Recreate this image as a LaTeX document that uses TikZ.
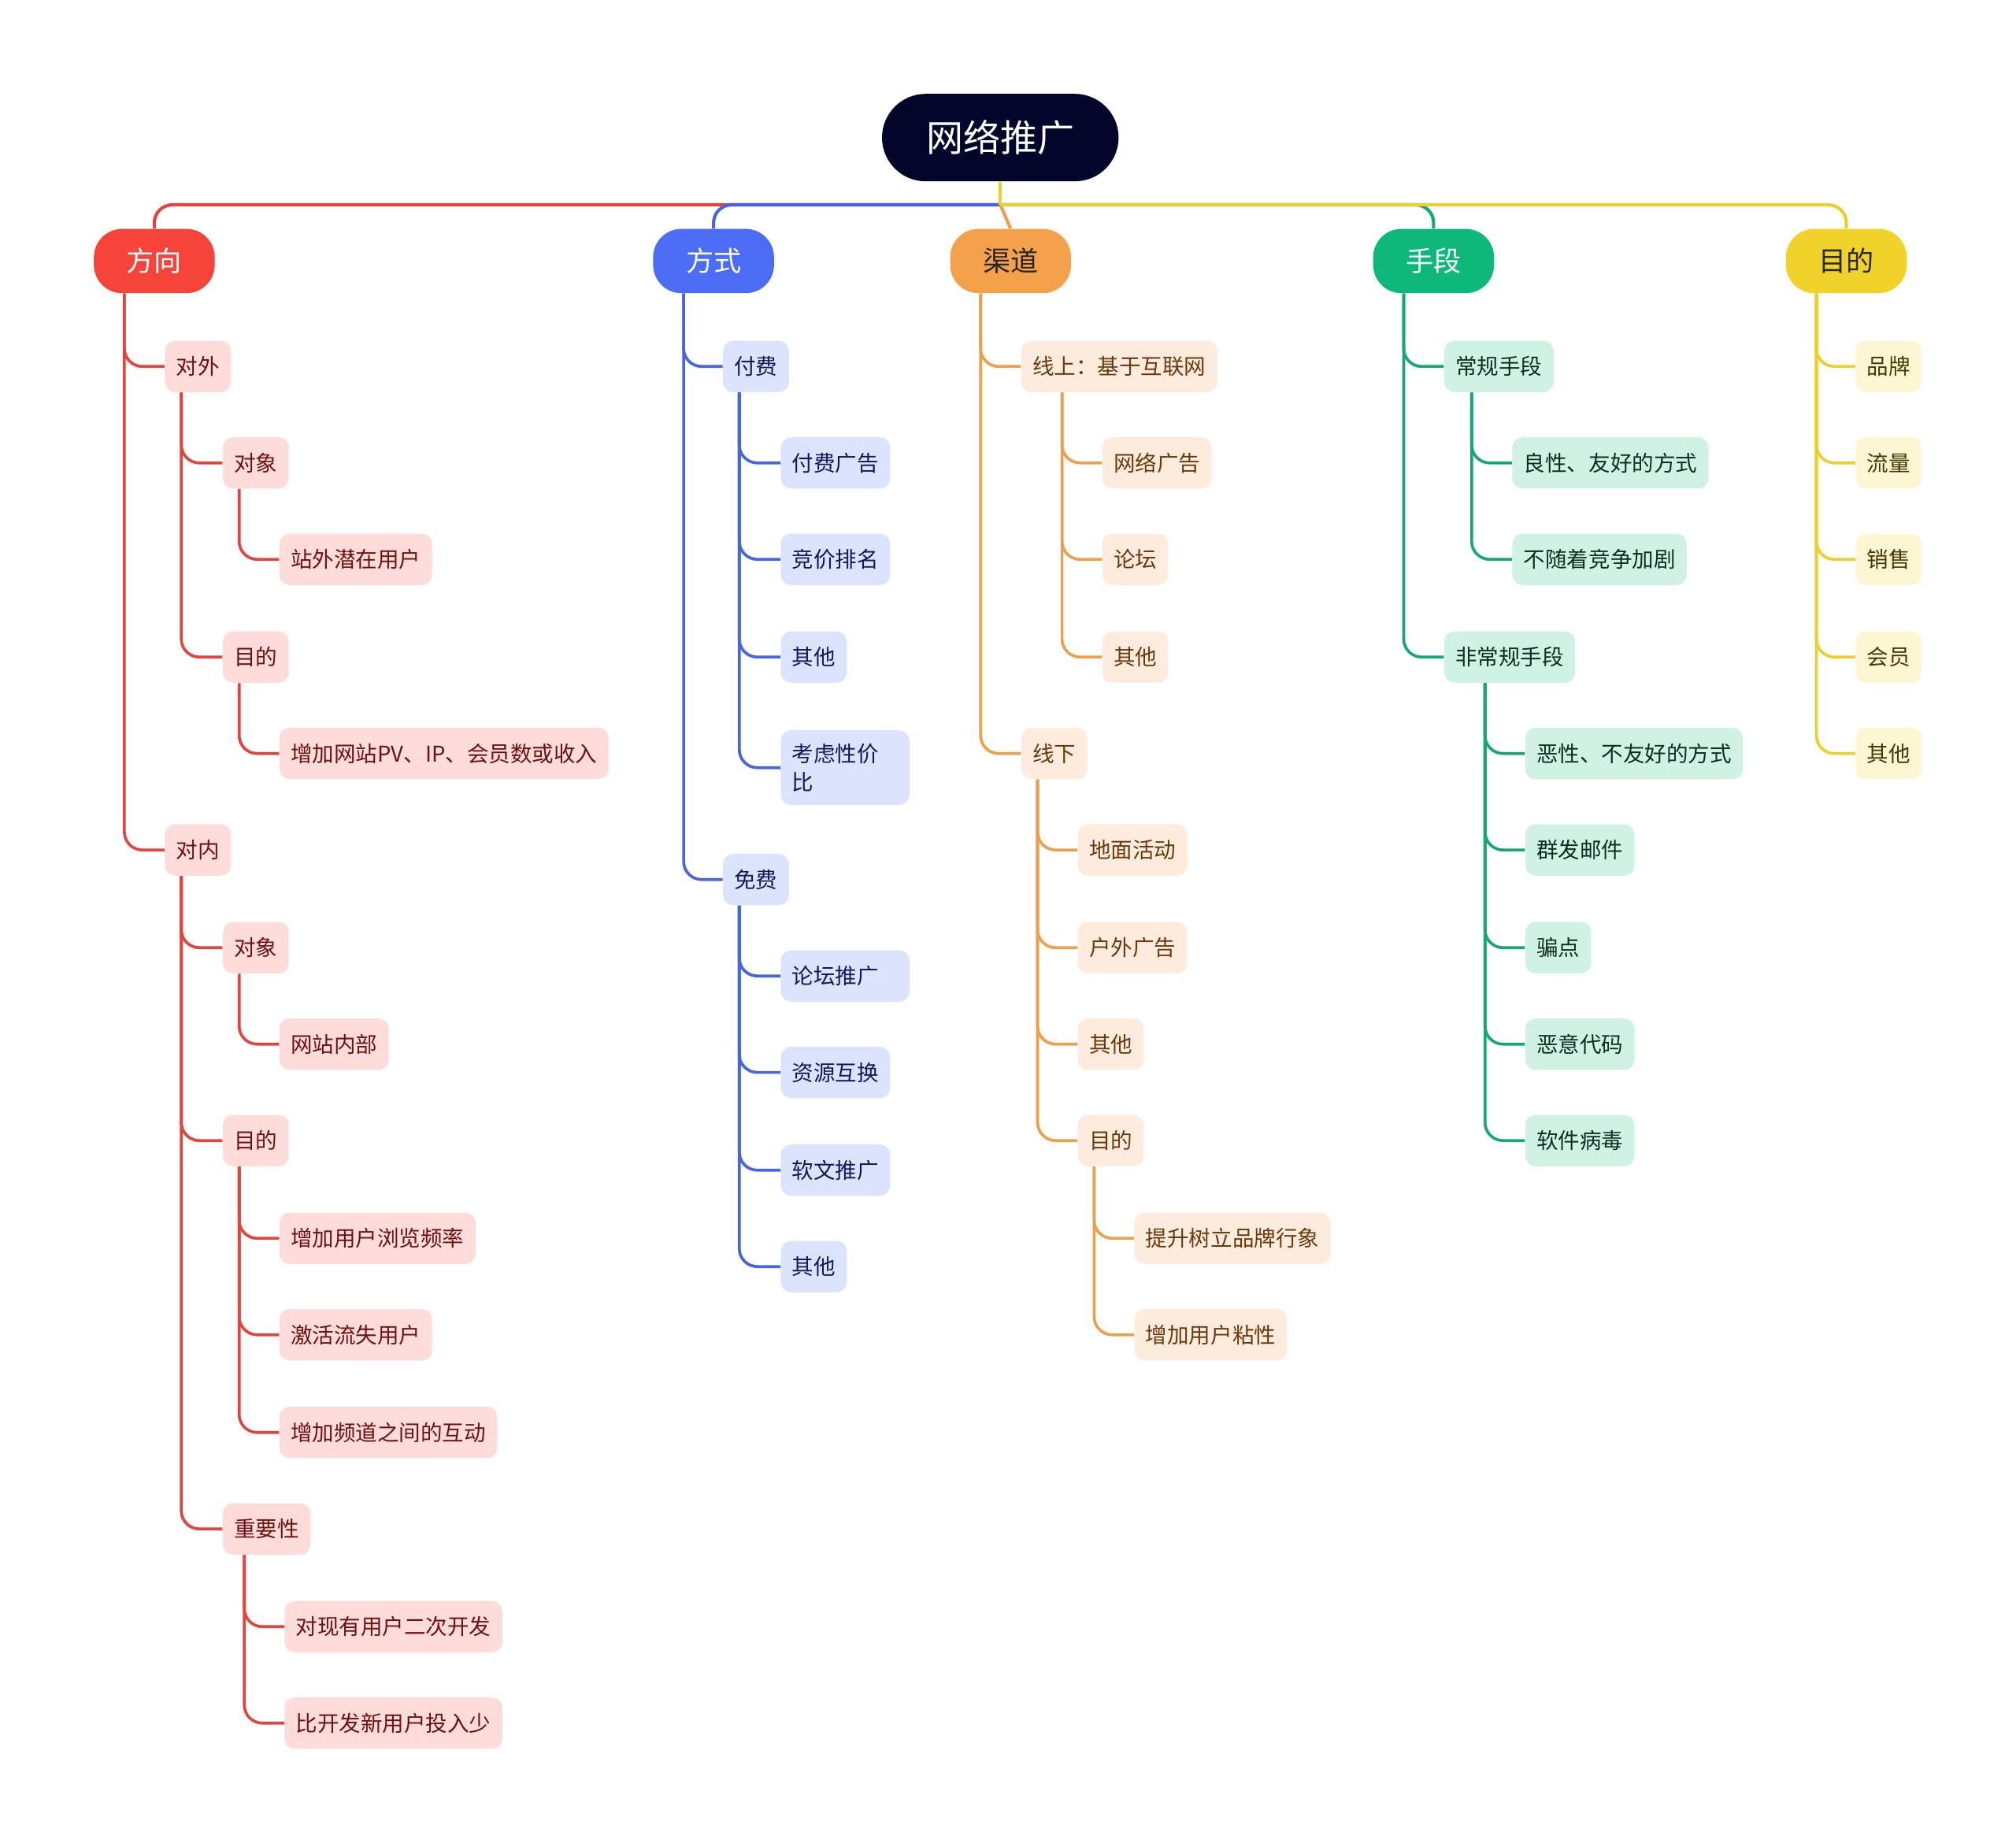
\documentclass[tikz,border=0pt]{standalone}
\usepackage{fontspec}
\setmainfont{Noto Sans CJK SC}
\usetikzlibrary{positioning}

\definecolor{rootC}{HTML}{03052A}
\definecolor{rFill}{HTML}{F6443A}\definecolor{rLine}{HTML}{E0463F}\definecolor{rSub}{HTML}{FDDCDA}\definecolor{rTxt}{HTML}{6E1111}
\definecolor{bFill}{HTML}{4B6CF5}\definecolor{bLine}{HTML}{4865DC}\definecolor{bSub}{HTML}{DCE3FC}\definecolor{bTxt}{HTML}{101A5C}
\definecolor{oFill}{HTML}{F5A14B}\definecolor{oLine}{HTML}{EBA050}\definecolor{oSub}{HTML}{FDECDD}\definecolor{oTxt}{HTML}{6B3A0C}
\definecolor{gFill}{HTML}{0DB87A}\definecolor{gLine}{HTML}{17A776}\definecolor{gSub}{HTML}{D0F2E4}\definecolor{gTxt}{HTML}{0E2E22}
\definecolor{yFill}{HTML}{F0D22A}\definecolor{yLine}{HTML}{EBCF2F}\definecolor{ySub}{HTML}{FDF6D2}\definecolor{yTxt}{HTML}{453A05}

\tikzset{
  sub/.style={rounded corners=2mm, inner xsep=2.2mm, minimum height=10mm, anchor=west,
    font=\fontsize{12}{15.6}\selectfont},
  subR/.style={sub, fill=rSub, text=rTxt},
  subB/.style={sub, fill=bSub, text=bTxt},
  subO/.style={sub, fill=oSub, text=oTxt},
  subG/.style={sub, fill=gSub, text=gTxt},
  subY/.style={sub, fill=ySub, text=yTxt},
  wide/.style={text width=20.6mm, align=left},
  branch/.style={rounded corners=5.5mm, minimum width=23.5mm, minimum height=12.5mm,
    font=\fontsize{15.3}{18}\selectfont},
  lk/.style={line width=1.6pt, rounded corners=3.5mm},
  bus/.style={line width=1.8pt, rounded corners=3.5mm}
}

\begin{document}
\begin{tikzpicture}[x=0.25mm, y=-0.25mm]
\useasboundingbox (0,0) rectangle (1568,1433);

    % Root and main branches
    \node[fill=rootC, text=white, rounded corners=8.5mm, minimum width=46mm, minimum height=17mm,
          font=\fontsize{20.5}{24}\selectfont] (root) at (778,107) {网络推广};
    \coordinate[below=4.5mm of root] (hub);
    \node[branch, fill=rFill, text=white] (fx) at (120,203) {方向};
    \node[branch, fill=bFill, text=white] (fs) at (555,203) {方式};
    \node[branch, fill=oFill, text=black!85] (qd) at (786,203) {渠道};
    \node[branch, fill=gFill, text=white] (sd) at (1115,203) {手段};
    \node[branch, fill=yFill, text=black!85] (md) at (1436,203) {目的};

    \draw[bus, rLine] (hub) -| (fx.north);
    \draw[bus, bLine] (hub) -| (fs.north);
    \draw[bus, oLine] (hub) -- (qd.north);
    \draw[bus, gLine] (hub) -| (sd.north);
    \draw[bus, yLine] (hub) -| (md.north);
    \draw[bus, yLine] (root.south) -- (hub);

    % 方向
    \node[subR] (dw) at (128,285) {对外};
    \node[subR] (dwdx) at (173,360) {对象};
    \node[subR] (dwyh) at (217,435) {站外潜在用户};
    \node[subR] (dwmd) at (173,511) {目的};
    \node[subR] (dwsr) at (217,586) {增加网站PV、IP、会员数或收入};
    \node[subR] (dn) at (128,661) {对内};
    \node[subR] (dndx) at (173,737) {对象};
    \node[subR] (dnnb) at (217,812) {网站内部};
    \node[subR] (dnmd) at (173,887) {目的};
    \node[subR] (dnpl) at (217,963) {增加用户浏览频率};
    \node[subR] (dnjh) at (217,1038) {激活流失用户};
    \node[subR] (dnhd) at (217,1114) {增加频道之间的互动};
    \node[subR] (dnzy) at (173,1189) {重要性};
    \node[subR] (dnkf) at (221,1265) {对现有用户二次开发};
    \node[subR] (dntr) at (221,1340) {比开发新用户投入少};

    \draw[lk, rLine] ([xshift=6mm]fx.south west) |- (dw.west);
    \draw[lk, rLine] ([xshift=6mm]fx.south west) |- (dn.west);
    \draw[lk, rLine] ([xshift=3.25mm]dw.south west) |- (dwdx.west);
    \draw[lk, rLine] ([xshift=3.25mm]dw.south west) |- (dwmd.west);
    \draw[lk, rLine] ([xshift=3.25mm]dwdx.south west) |- (dwyh.west);
    \draw[lk, rLine] ([xshift=3.25mm]dwmd.south west) |- (dwsr.west);
    \draw[lk, rLine] ([xshift=3.25mm]dn.south west) |- (dndx.west);
    \draw[lk, rLine] ([xshift=3.25mm]dn.south west) |- (dnmd.west);
    \draw[lk, rLine] ([xshift=3.25mm]dn.south west) |- (dnzy.west);
    \draw[lk, rLine] ([xshift=3.25mm]dndx.south west) |- (dnnb.west);
    \draw[lk, rLine] ([xshift=3.25mm]dnmd.south west) |- (dnpl.west);
    \draw[lk, rLine] ([xshift=3.25mm]dnmd.south west) |- (dnjh.west);
    \draw[lk, rLine] ([xshift=3.25mm]dnmd.south west) |- (dnhd.west);
    \draw[lk, rLine] ([xshift=4.25mm]dnzy.south west) |- (dnkf.west);
    \draw[lk, rLine] ([xshift=4.25mm]dnzy.south west) |- (dntr.west);

    % 方式
    \node[subB] (ff) at (562,285) {付费};
    \node[subB] (ffgg) at (607,360) {付费广告};
    \node[subB] (ffjj) at (607,435) {竞价排名};
    \node[subB] (ffqt) at (607,511) {其他};
    \node[subB, wide, inner ysep=2.6mm] (ffxj) at (607,597) {考虑性价\\比};
    \node[subB] (mf) at (562,684) {免费};
    \node[subB, wide] (mflt) at (607,759) {论坛推广};
    \node[subB] (mfzy) at (607,834) {资源互换};
    \node[subB] (mfrw) at (607,910) {软文推广};
    \node[subB] (mfqt) at (607,985) {其他};

    \draw[lk, bLine] ([xshift=6mm]fs.south west) |- (ff.west);
    \draw[lk, bLine] ([xshift=6mm]fs.south west) |- (mf.west);
    \draw[lk, bLine] ([xshift=3.25mm]ff.south west) |- (ffgg.west);
    \draw[lk, bLine] ([xshift=3.25mm]ff.south west) |- (ffjj.west);
    \draw[lk, bLine] ([xshift=3.25mm]ff.south west) |- (ffqt.west);
    \draw[lk, bLine] ([xshift=3.25mm]ff.south west) |- (ffxj.west);
    \draw[lk, bLine] ([xshift=3.25mm]mf.south west) |- (mflt.west);
    \draw[lk, bLine] ([xshift=3.25mm]mf.south west) |- (mfzy.west);
    \draw[lk, bLine] ([xshift=3.25mm]mf.south west) |- (mfrw.west);
    \draw[lk, bLine] ([xshift=3.25mm]mf.south west) |- (mfqt.west);

    % 渠道
    \node[subO] (xs) at (794,285) {线上：基于互联网};
    \node[subO] (xswl) at (857,360) {网络广告};
    \node[subO] (xslt) at (857,435) {论坛};
    \node[subO] (xsqt) at (857,511) {其他};
    \node[subO] (xx) at (794,586) {线下};
    \node[subO] (xxdm) at (838,661) {地面活动};
    \node[subO] (xxhw) at (838,737) {户外广告};
    \node[subO] (xxqt) at (838,812) {其他};
    \node[subO] (xxmd) at (838,887) {目的};
    \node[subO] (xxpp) at (882,963) {提升树立品牌行象};
    \node[subO] (xxnx) at (882,1038) {增加用户粘性};

    \draw[lk, oLine] ([xshift=6mm]qd.south west) |- (xs.west);
    \draw[lk, oLine] ([xshift=6mm]qd.south west) |- (xx.west);
    \draw[lk, oLine] ([xshift=8mm]xs.south west) |- (xswl.west);
    \draw[lk, oLine] ([xshift=8mm]xs.south west) |- (xslt.west);
    \draw[lk, oLine] ([xshift=8mm]xs.south west) |- (xsqt.west);
    \draw[lk, oLine] ([xshift=3.25mm]xx.south west) |- (xxdm.west);
    \draw[lk, oLine] ([xshift=3.25mm]xx.south west) |- (xxhw.west);
    \draw[lk, oLine] ([xshift=3.25mm]xx.south west) |- (xxqt.west);
    \draw[lk, oLine] ([xshift=3.25mm]xx.south west) |- (xxmd.west);
    \draw[lk, oLine] ([xshift=3.25mm]xxmd.south west) |- (xxpp.west);
    \draw[lk, oLine] ([xshift=3.25mm]xxmd.south west) |- (xxnx.west);

    % 手段
    \node[subG] (cg) at (1123,285) {常规手段};
    \node[subG] (cglx) at (1176,360) {良性、友好的方式};
    \node[subG] (cgbs) at (1176,435) {不随着竞争加剧};
    \node[subG] (fc) at (1123,511) {非常规手段};
    \node[subG] (fcex) at (1186,586) {恶性、不友好的方式};
    \node[subG] (fcqf) at (1186,661) {群发邮件};
    \node[subG] (fcpd) at (1186,737) {骗点};
    \node[subG] (fcdm) at (1186,812) {恶意代码};
    \node[subG] (fcbd) at (1186,887) {软件病毒};

    \draw[lk, gLine] ([xshift=6mm]sd.south west) |- (cg.west);
    \draw[lk, gLine] ([xshift=6mm]sd.south west) |- (fc.west);
    \draw[lk, gLine] ([xshift=5.4mm]cg.south west) |- (cglx.west);
    \draw[lk, gLine] ([xshift=5.4mm]cg.south west) |- (cgbs.west);
    \draw[lk, gLine] ([xshift=8mm]fc.south west) |- (fcex.west);
    \draw[lk, gLine] ([xshift=8mm]fc.south west) |- (fcqf.west);
    \draw[lk, gLine] ([xshift=8mm]fc.south west) |- (fcpd.west);
    \draw[lk, gLine] ([xshift=8mm]fc.south west) |- (fcdm.west);
    \draw[lk, gLine] ([xshift=8mm]fc.south west) |- (fcbd.west);

    % 目的
    \node[subY] (pp) at (1443,285) {品牌};
    \node[subY] (ll) at (1443,360) {流量};
    \node[subY] (xsh) at (1443,435) {销售};
    \node[subY] (hy) at (1443,511) {会员};
    \node[subY] (qt) at (1443,586) {其他};

    \draw[lk, yLine] ([xshift=6mm]md.south west) |- (pp.west);
    \draw[lk, yLine] ([xshift=6mm]md.south west) |- (ll.west);
    \draw[lk, yLine] ([xshift=6mm]md.south west) |- (xsh.west);
    \draw[lk, yLine] ([xshift=6mm]md.south west) |- (hy.west);
    \draw[lk, yLine] ([xshift=6mm]md.south west) |- (qt.west);

\end{tikzpicture}
\end{document}
